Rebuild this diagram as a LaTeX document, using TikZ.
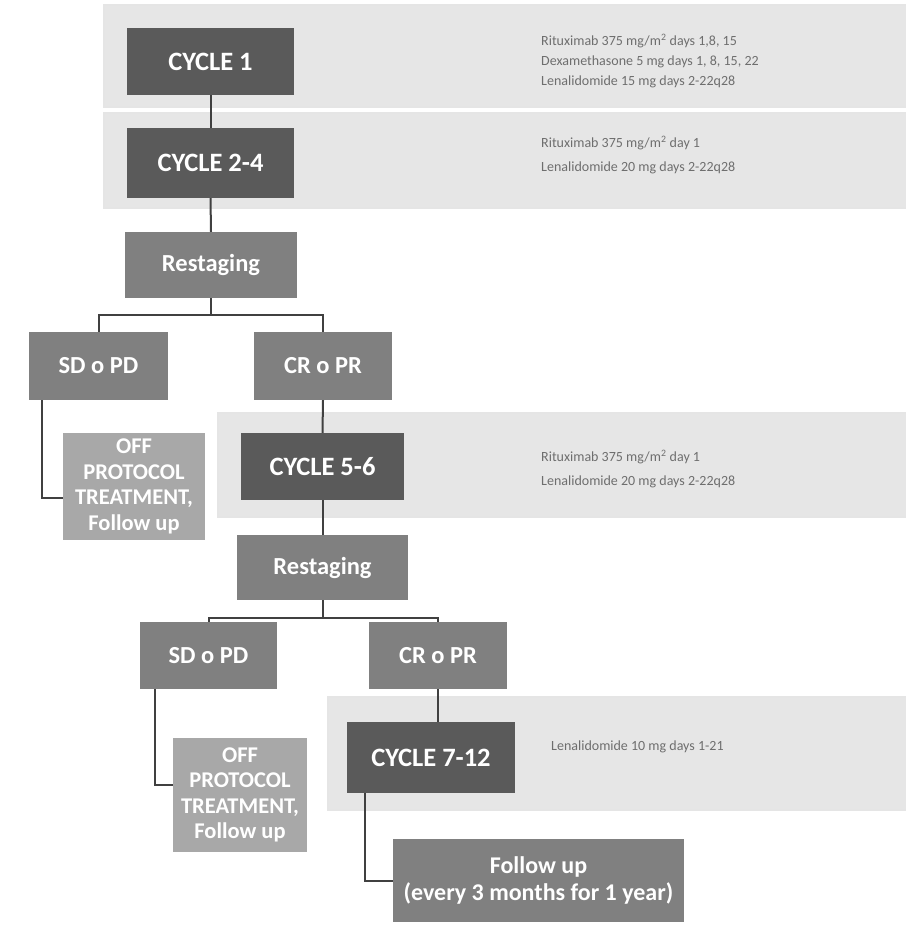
\documentclass[tikz,border=0pt]{standalone}
\usepackage{fontspec}
\setmainfont{Carlito}
\definecolor{cycgray}{HTML}{5A5A5A}
\definecolor{stepgray}{HTML}{808080}
\definecolor{offgray}{HTML}{A8A8A8}
\definecolor{bandgray}{HTML}{E6E6E6}
\definecolor{notegray}{HTML}{6E6E6E}
\definecolor{linkgray}{HTML}{404040}
\begin{document}
\begin{tikzpicture}[x=1pt,y=-1pt,
  box/.style={rectangle, draw=none, text=white, align=center, inner sep=0pt},
  cyclebox/.style={box, fill=cycgray, font=\bfseries\fontsize{26.5}{30}\selectfont},
  stepbox/.style={box, fill=stepgray, font=\bfseries\fontsize{24.5}{28}\selectfont},
  offbox/.style={box, fill=offgray, font=\bfseries\fontsize{22.5}{25.5}\selectfont},
  fubox/.style={box, fill=stepgray, font=\bfseries\fontsize{24}{27}\selectfont},
  band/.style={fill=bandgray, draw=white!90!black, line width=1.5pt},
  note/.style={text=notegray, anchor=west, align=left, inner sep=0pt},
  link/.style={draw=linkgray, line width=2pt}]
\useasboundingbox (0,0) rectangle (905,929);
\fill[white] (0,0) rectangle (905,929);

% shaded bands behind the treatment cycles
\fill[band] (104,5) rectangle (910,107);
\fill[band] (104,113) rectangle (910,208);
\fill[band] (218,413) rectangle (910,517);
\fill[band] (328,697) rectangle (910,810);

% treatment boxes
\node[cyclebox, minimum width=167pt, minimum height=67pt] (c1) at (210.5,61.5) {CYCLE 1};
\node[cyclebox, minimum width=167pt, minimum height=70pt] (c24) at (210.5,163) {CYCLE 2-4};
\node[stepbox, minimum width=172pt, minimum height=66pt] (rs1) at (211,265) {Restaging};
\node[stepbox, minimum width=139pt, minimum height=68pt] (sd1) at (98.5,366) {SD o PD};
\node[stepbox, minimum width=138pt, minimum height=68pt] (cr1) at (323,366) {CR o PR};
\node[offbox, minimum width=142pt, minimum height=107pt] (off1) at (134,486.5) {OFF\\PROTOCOL\\TREATMENT,\\Follow up};
\node[cyclebox, minimum width=163pt, minimum height=67pt] (c56) at (322.5,466.5) {CYCLE 5-6};
\node[stepbox, minimum width=171pt, minimum height=65pt] (rs2) at (322.5,567.5) {Restaging};
\node[stepbox, minimum width=137pt, minimum height=67pt] (sd2) at (208.5,655.5) {SD o PD};
\node[stepbox, minimum width=138pt, minimum height=67pt] (cr2) at (438,655.5) {CR o PR};
\node[offbox, minimum width=134pt, minimum height=114pt] (off2) at (240,795) {OFF\\PROTOCOL\\TREATMENT,\\Follow up};
\node[cyclebox, minimum width=168pt, minimum height=71pt] (c712) at (431,757.5) {CYCLE 7-12};
\node[fubox, minimum width=291pt, minimum height=83pt] (fu) at (538.5,880.5) {Follow up\\(every 3 months for 1 year)};

% regimen notes
\node[note, font=\fontsize{14}{20}\selectfont] (n1) at (541,61) {Rituximab 375 mg/m\textsuperscript{2} days 1,8, 15\\Dexamethasone 5 mg days 1, 8, 15, 22\\Lenalidomide 15 mg days 2-22q28};
\node[note, font=\fontsize{14}{24}\selectfont] (n2) at (541,155) {Rituximab 375 mg/m\textsuperscript{2} day 1\\Lenalidomide 20 mg days 2-22q28};
\node[note, font=\fontsize{14}{24}\selectfont] (n3) at (541,469) {Rituximab 375 mg/m\textsuperscript{2} day 1\\Lenalidomide 20 mg days 2-22q28};
\node[note, font=\fontsize{14}{20}\selectfont] (n4) at (551,747) {Lenalidomide 10 mg days 1-21};

% connectors
\coordinate (b1) at (211,315);
\coordinate (b2) at (322.5,618);
\draw[link] (c1.south) -- (c24.north);
\draw[link] (c24.south) -- (rs1.north);
\draw[link] (rs1.south) -- (b1);
\draw[link] (sd1.north) |- (b1) -| (cr1.north);
\draw[link] ([xshift=13pt]sd1.south west) |- ([yshift=-11pt]off1.west);
\draw[link] (cr1.south) -- (c56.north);
\draw[link] (c56.south) -- (rs2.north);
\draw[link] (rs2.south) -- (b2);
\draw[link] (sd2.north) |- (b2) -| (cr2.north);
\draw[link] ([xshift=15pt]sd2.south west) |- ([yshift=10pt]off2.west);
\draw[link] (cr2.south) -- (cr2.south |- c712.north);
\draw[link] ([xshift=18pt]c712.south west) |- (fu.west);
\end{tikzpicture}
\end{document}
